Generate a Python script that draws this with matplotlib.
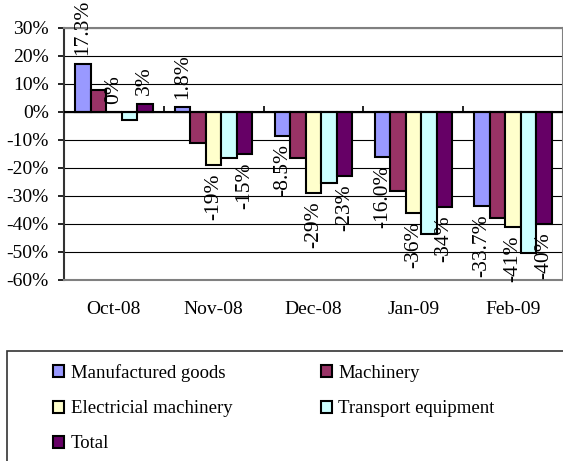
import matplotlib
matplotlib.use("Agg")
import matplotlib.pyplot as plt
from matplotlib.patches import Rectangle, Patch
import numpy as np

plt.rcParams['font.family'] = ['Liberation Serif', 'DejaVu Serif']

months = ["Oct-08", "Nov-08", "Dec-08", "Jan-09", "Feb-09"]
series_names = ["Manufactured goods", "Machinery", "Electricial machinery",
                "Transport equipment", "Total"]
manufactured = [17.3, 1.8, -8.5, -16.0, -33.7]
machinery = [8.0, -11.0, -16.5, -28.3, -37.7]
electrical = [0.0, -19.0, -29.0, -36.0, -41.0]
transport = [-3.0, -16.5, -25.3, -43.6, -50.5]
total = [3.0, -15.0, -23.0, -34.0, -40.0]
y_ticks = [30, 20, 10, 0, -10, -20, -30, -40, -50, -60]

colors = ["#9999FF", "#993366", "#FFFFCC", "#CCFFFF", "#660066"]
values = [manufactured, machinery, electrical, transport, total]
# which series carry value labels, and their number format
label_fmt = {0: "{:.1f}%", 2: "{:.0f}%", 4: "{:.0f}%"}

W, H = 563, 461
fig = plt.figure(figsize=(W / 100, H / 100), dpi=100)
ax = fig.add_axes([64 / W, 1 - 280 / H, 499 / W, 252 / H])

x = np.arange(len(months))
bw = 0.155
fs = 14
handles = []
for i, (vals, col) in enumerate(zip(values, colors)):
    pos = x + (i - 2) * bw
    ax.bar(pos, vals, width=bw, color=col, edgecolor="black",
           linewidth=1.5, zorder=3, label=series_names[i])
    handles.append(Patch(facecolor=col, edgecolor="black", linewidth=1.5,
                         label=series_names[i]))
    if i in label_fmt:
        for p, v in zip(pos, vals):
            off = 6 if v >= 0 else -6
            ax.annotate(label_fmt[i].format(v), xy=(p, v), xytext=(0, off),
                        textcoords="offset points", rotation=90,
                        ha="center", va="bottom" if v >= 0 else "top",
                        fontsize=15.5, zorder=5, annotation_clip=False)

ax.set_xlim(-0.5, len(months) - 0.5)
ax.set_ylim(min(y_ticks), max(y_ticks))
ax.set_yticks(y_ticks)
ax.set_yticklabels([f"{t}%" for t in y_ticks], fontsize=fs)
ax.tick_params(axis="y", direction="out", length=4, width=1.2, pad=7,
               color="black")
ax.set_xticks(x)
ax.set_xticklabels(months, fontsize=fs)
ax.tick_params(axis="x", length=0, pad=15)

ax.grid(axis="y", color="black", linewidth=0.8, zorder=0)
ax.set_axisbelow(True)
for side in ["top", "right", "bottom"]:
    ax.spines[side].set_color("#808080")
    ax.spines[side].set_linewidth(1.5)
ax.spines["left"].set_color("#333333")
ax.spines["left"].set_linewidth(1.5)

# category axis drawn along the zero line, with dividers between months
ymin, ymax = ax.get_ylim()
zero_frac = (0 - ymin) / (ymax - ymin)
sec = ax.secondary_xaxis(zero_frac)
sec.set_xticks(x[:-1] + 0.5)
sec.set_xticklabels([])
sec.tick_params(direction="out", length=4, width=1.2, color="black")
sec.spines["bottom"].set_color("black")
sec.spines["bottom"].set_linewidth(1.5)
ax.axhline(0, color="black", linewidth=1.5, zorder=4)

# legend box
fig.patches.append(Rectangle((7 / W, -0.05), 1.1, (1 - 351 / H) + 0.05,
                             transform=fig.transFigure, facecolor="white",
                             edgecolor="#333333", linewidth=1.2))
order = [0, 2, 4, 1, 3]
fig.legend([handles[k] for k in order], [series_names[k] for k in order],
           ncol=2, loc="upper left", bbox_to_anchor=(40 / W, 1 - 351 / H),
           frameon=False, fontsize=13.5, handlelength=0.6, handleheight=0.6,
           handletextpad=0.35, columnspacing=4.7, labelspacing=0.97,
           borderpad=0.2)

fig.savefig("out.png", dpi=100)
